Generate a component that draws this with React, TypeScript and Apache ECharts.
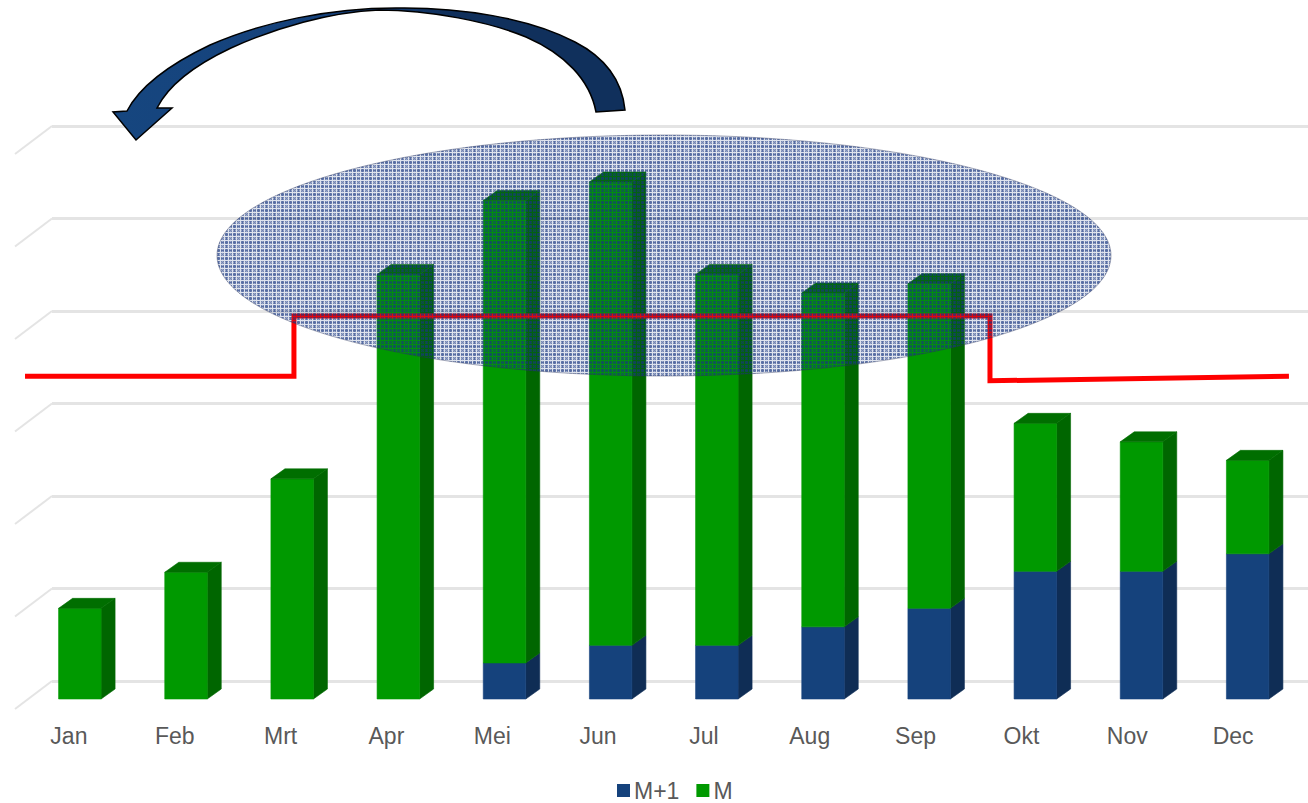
import React, { useEffect, useRef } from "react";
import * as echarts from "echarts";

const categories = ["Jan", "Feb", "Mrt", "Apr", "Mei", "Jun", "Jul", "Aug", "Sep", "Okt", "Nov", "Dec"];
const seriesMPlus1 = [0, 0, 0, 0, 3.9, 5.8, 5.8, 7.8, 9.8, 13.8, 13.8, 15.7];
const seriesM = [9.8, 13.7, 23.8, 45.9, 50, 50.1, 40.1, 36.1, 35.1, 16, 14, 10.1];
const wallTicks = [0, 10, 20, 30, 40, 50, 60];
const redLineX = [-0.415, 2.118, 2.118, 8.674, 8.674, 11.49];
const redLineY = [34.9, 34.9, 41.4, 41.4, 34.4, 34.9];

const ARROW =
  "M625 110 C622 80 606 58 575 42 C530 18 460 7 396 8 C330 8 262 22 210 45 C170 64 140 86 127 111 L113 112 L136 140 L172 108 L157 108 C168 86 195 65 231 48 C275 28 330 12 379 10 C430 10 490 22 526 37 C565 54 590 80 596 112 Z";

function makePattern() {
  const c = document.createElement("canvas");
  c.width = 8;
  c.height = 8;
  const g = c.getContext("2d")!;
  for (let y = 0; y < 8; y++) {
    for (let x = 0; x < 8; x++) {
      let a = (x + y) % 2 === 0 ? 0.6 : 0.44;
      if (x % 8 === 2 || y % 8 === 2) a = 0.72;
      if (x % 4 === 0 || y % 4 === 0) a = 0.14;
      g.fillStyle = `rgba(24,54,128,${a})`;
      g.fillRect(x, y, 1, 1);
    }
  }
  return c;
}

function bars(front: string, side: string, top: string, base: number[], values: number[], showTop: boolean) {
  return (params: any, api: any) => {
    const i = api.value(0);
    const lo = base[i];
    const hi = lo + values[i];
    if (values[i] === 0) return { type: "group", children: [] };
    const a = api.coord([i, lo]);
    const b = api.coord([i, hi]);
    const w = 42.5;
    const dx = 14;
    const dy = 10;
    const x0 = a[0] - 10.5;
    const x1 = x0 + w;
    const sw = (c: string) => ({ fill: c, stroke: c, lineWidth: 0.6 });
    const children: any[] = [
      { type: "polygon", shape: { points: [[x1, a[1]], [x1 + dx, a[1] - dy], [x1 + dx, b[1] - dy], [x1, b[1]]] }, style: sw(side) },
      { type: "rect", shape: { x: x0, y: b[1], width: w, height: a[1] - b[1] }, style: sw(front) },
    ];
    if (showTop) {
      children.push({ type: "polygon", shape: { points: [[x0, b[1]], [x0 + dx, b[1] - dy], [x1 + dx, b[1] - dy], [x1, b[1]]] }, style: sw(top) });
    }
    return { type: "group", children };
  };
}

export default function App() {
  const ref = useRef<HTMLDivElement>(null);
  useEffect(() => {
    echarts.graphic.registerShape("bendArrow", echarts.graphic.extendPath(ARROW, {}));
    const chart = echarts.init(ref.current!, null, { renderer: "svg" });
    const axisFont = { color: "#595959", fontSize: 23, fontFamily: "'Liberation Sans', Arial, sans-serif" };
    const idx = categories.map((_, i) => i);
    chart.setOption({
      animation: false,
      backgroundColor: "#ffffff",
      legend: {
        bottom: -4,
        left: 612,
        itemWidth: 13,
        itemHeight: 13,
        itemGap: 17,
        icon: "rect",
        data: ["M+1", "M"],
        textStyle: { ...axisFont, padding: [0, 0, 0, -1] },
      },
      grid: [
        { left: 16, right: 18, top: 144, height: 555 },
        { left: 52, right: 0, top: 126, height: 555 },
        { left: 16, right: 22, top: 144, height: 555 },
      ],
      xAxis: [
        { type: "category", gridIndex: 0, data: categories, show: false },
        { type: "value", gridIndex: 0, min: -0.5, max: 11.5, show: false },
        { type: "value", gridIndex: 1, min: 0, max: 1, show: false },
        {
          type: "category",
          gridIndex: 2,
          data: categories,
          axisLine: { show: false },
          axisTick: { show: false },
          axisLabel: { ...axisFont, margin: 25 },
          splitLine: { show: false },
        },
      ],
      yAxis: [
        { type: "value", gridIndex: 0, min: 0, max: 60, interval: 10, show: false },
        {
          type: "value",
          gridIndex: 1,
          min: 0,
          max: 60,
          interval: 10,
          axisLine: { show: false },
          axisTick: { show: false },
          axisLabel: { show: false },
          splitLine: { show: true, lineStyle: { color: "#e4e4e4", width: 3 } },
        },
        { type: "value", gridIndex: 2, min: 0, max: 60, interval: 10, show: false },
      ],
      series: [
        {
          type: "custom",
          xAxisIndex: 2,
          yAxisIndex: 1,
          silent: true,
          data: wallTicks,
          encode: { x: 0, y: 0 },
          renderItem: (params: any, api: any) => {
            const p = api.coord([0, wallTicks[params.dataIndex]]);
            return {
              type: "line",
              shape: { x1: p[0], y1: p[1], x2: p[0] - 37, y2: p[1] + 28 },
              style: { stroke: "#e4e4e4", lineWidth: 2 },
            };
          },
          z: 1,
        },
        {
          name: "M+1",
          type: "custom",
          xAxisIndex: 0,
          yAxisIndex: 0,
          data: idx,
          encode: { x: 0, y: 0 },
          itemStyle: { color: "#15427c" },
          renderItem: bars("#15427c", "#0f2d55", "#0f2d55", categories.map(() => 0), seriesMPlus1, false),
          z: 3,
        },
        {
          name: "M",
          type: "custom",
          xAxisIndex: 0,
          yAxisIndex: 0,
          data: idx,
          encode: { x: 0, y: 0 },
          itemStyle: { color: "#009900" },
          renderItem: bars("#009900", "#006600", "#006e00", seriesMPlus1, seriesM, true),
          z: 3,
        },
        {
          type: "line",
          xAxisIndex: 1,
          yAxisIndex: 0,
          data: redLineX.map((x, i) => [x, redLineY[i]]),
          symbol: "none",
          lineStyle: { color: "#ff0000", width: 5, join: "miter" },
          z: 4,
        },
        {
          type: "custom",
          xAxisIndex: 3,
          yAxisIndex: 2,
          silent: true,
          data: [],
          renderItem: () => ({ type: "group", children: [] }),
        },
      ],
      graphic: [
        {
          type: "ellipse",
          z: 100,
          shape: { cx: 664, cy: 255.5, rx: 447, ry: 120.5 },
          style: { fill: { image: makePattern(), repeat: "repeat" }, stroke: "rgba(40,50,90,0.4)", lineWidth: 1 },
        },
        {
          type: "bendArrow",
          z: 101,
          style: {
            fill: {
              type: "linear",
              x: 0,
              y: 0,
              x2: 1,
              y2: 0,
              colorStops: [
                { offset: 0, color: "#16467f" },
                { offset: 0.5, color: "#15407a" },
                { offset: 0.65, color: "#10305c" },
                { offset: 1, color: "#10305c" },
              ],
            },
            stroke: "#000000",
            lineWidth: 1.5,
          },
        },
      ],
    });
    return () => chart.dispose();
  }, []);
  return <div ref={ref} style={{ position: "absolute", left: 0, top: 0, width: 1308, height: 803 }} />;
}
